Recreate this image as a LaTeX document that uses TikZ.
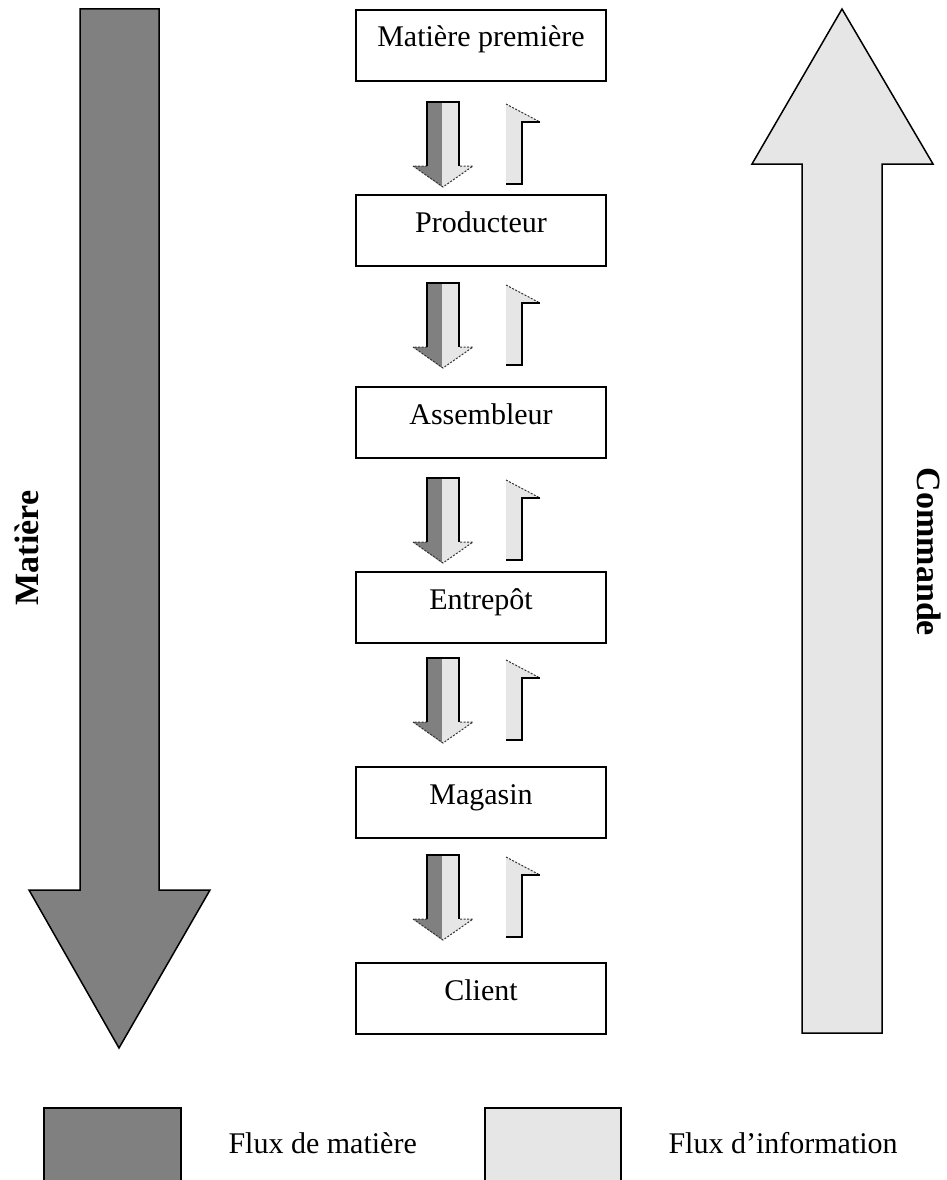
\documentclass[tikz,border=0pt]{standalone}
\usepackage{fontspec}
\setmainfont{Liberation Serif}
\definecolor{darkflow}{HTML}{808080}
\definecolor{lightflow}{HTML}{E6E6E6}
\begin{document}
\begin{tikzpicture}[x=1pt,y=-1pt,
  stagebox/.style={draw=black,line width=1.8pt,fill=white,minimum width=250pt,minimum height=71pt,inner sep=0pt,anchor=north},
  stagelabel/.style={anchor=base,font=\fontsize{30}{35}\selectfont},
  bigarrow/.style={draw=black,line width=1.5pt,line join=miter},
  sidelabel/.style={anchor=base,font=\fontsize{34}{40}\selectfont\bfseries},
  legendlabel/.style={anchor=base west,font=\fontsize{30}{35}\selectfont},
  headedge/.style={draw=black!80,line width=1pt,dash pattern=on 2pt off 1.5pt},
  solidedge/.style={draw=black,line width=1.5pt}]
\useasboundingbox (0,0) rectangle (947,1180);
\fill[white] (0,0) rectangle (947,1180);

% big arrows
\filldraw[bigarrow,fill=darkflow] (80,9) -- (159,9) -- (159,890) -- (210,890) -- (119,1048) -- (29,890) -- (80,890) -- cycle;
\filldraw[bigarrow,fill=lightflow] (802,1033) -- (802,164) -- (752,164) -- (842,9) -- (933,164) -- (882,164) -- (882,1033) -- cycle;

\node[sidelabel,rotate=90] (matiere) at (38,548) {Matière};
\node[sidelabel,rotate=-90] (commande) at (917,552) {Commande};

% stages
\foreach \nm/\top/\txt in {mp/9/Matière première, prod/194/Producteur, ass/386/Assembleur, ent/571/Entrepôt, mag/766/Magasin, cli/962/Client}{
  \node[stagebox] (\nm) at (481,\top) {};
  \node[stagelabel] (\nm-t) at (481,\top+38) {\txt};
}

% small flow arrows
\foreach \T in {102,283,478,658,855}{
  % material (down)
  \fill[darkflow] (427,\T) -- (442,\T) -- (442,\T+85) -- (413,\T+64) -- (427,\T+64) -- cycle;
  \fill[lightflow] (442,\T) -- (459,\T) -- (459,\T+64) -- (473,\T+64) -- (443,\T+85) -- (442,\T+85) -- cycle;
  \draw[solidedge] (427,\T+64) -- (427,\T) -- (459,\T) -- (459,\T+64);
  \draw[headedge] (427,\T+64) -- (413,\T+64) -- (443,\T+85) -- (473,\T+64) -- (459,\T+64);
  % information (up)
  \fill[lightflow] (506,\T+82) -- (506,\T+2) -- (540,\T+20) -- (522,\T+20) -- (522,\T+82) -- cycle;
  \draw[headedge] (506,\T+2) -- (540,\T+20);
  \draw[solidedge] (540,\T+20) -- (522,\T+20) -- (522,\T+82) -- (506,\T+82);
}

% legend
\filldraw[bigarrow,fill=darkflow] (44,1183) -- (44,1108) -- (181,1108) -- (181,1183);
\filldraw[bigarrow,fill=lightflow] (485,1183) -- (485,1108) -- (621,1108) -- (621,1183);
\node[legendlabel] (legmat) at (225,1153) {Flux de matière};
\node[legendlabel] (leginfo) at (665,1153) {Flux d’information};
\end{tikzpicture}
\end{document}
